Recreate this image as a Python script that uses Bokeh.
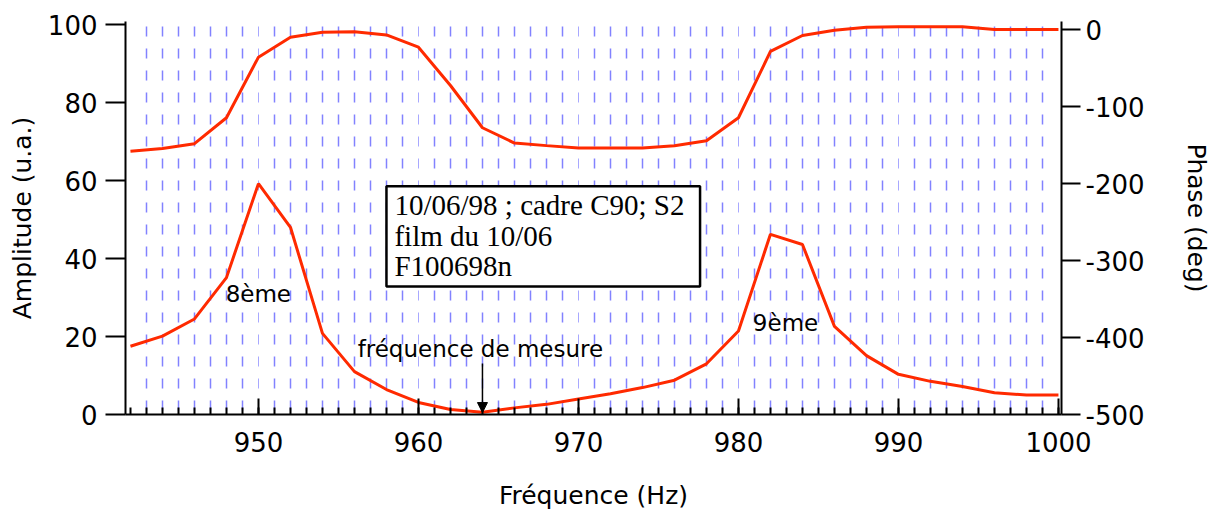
from bokeh.plotting import figure
from bokeh.models import (Range1d, LinearAxis, FixedTicker, Grid, BoxAnnotation,
                          Label, Arrow, NormalHead, CustomJSTickFormatter)
from bokeh.embed import file_html
from bokeh.resources import INLINE

# ---- data -------------------------------------------------------------
freq = list(range(942, 1001, 2))
amplitude = [17.5, 20.1, 24.5, 35.1, 59.2, 48.0, 20.8, 11.0, 6.4, 3.1,
             1.3, 0.6, 1.7, 2.6, 4.0, 5.3, 6.9, 8.8, 13.0, 21.4,
             46.2, 43.6, 22.6, 15.1, 10.3, 8.5, 7.2, 5.6, 5.0, 5.0]
phase = [-158.0, -154.4, -148.3, -114.6, -35.9, -10.0, -3.5, -3.0, -7.0, -23.0,
         -72.7, -127.6, -147.5, -150.8, -154.0, -154.0, -154.0, -151.0, -144.4, -114.6,
         -28.5, -7.8, -1.0, 3.0, 3.5, 3.5, 3.5, 0.0, 0.0, 0.0]

x_major_ticks = [950, 960, 970, 980, 990, 1000]
x_minor_ticks = list(range(942, 1001))
amp_ticks = [0, 20, 40, 60, 80, 100]
phase_ticks = [0, -100, -200, -300, -400, -500]
grid_minor = [f for f in range(943, 1000) if f % 10 != 0]
grid_major = [950, 960, 970, 980, 990]

box_lines = ["10/06/98 ; cadre C90; S2", "film du 10/06", "F100698n"]
peak_labels = ["8ème", "9ème"]
measure_label = "fréquence de mesure"
measure_freq = 964

RED = "#ff2a00"
SANS = "DejaVu Sans"

p = figure(width=1215, height=512, output_backend="svg", toolbar_location=None,
           x_range=Range1d(941.69, 1000.19), y_range=Range1d(0, 100.77),
           min_border_left=125, min_border_right=154, min_border_top=21,
           min_border_bottom=98)
p.outline_line_color = None
p.background_fill_color = "white"
p.extra_y_ranges = {"phase": Range1d(-500, 10.4)}

# grids
p.ygrid.visible = False
p.xgrid.ticker = FixedTicker(ticks=grid_minor)
p.xgrid.grid_line_color = "#8282ff"
p.xgrid.grid_line_width = 1.5
p.xgrid.grid_line_dash = "10 12"
p.xgrid.grid_line_dash_offset = 18
g2 = Grid(dimension=0, ticker=FixedTicker(ticks=grid_major),
          grid_line_color="#a8a8ff", grid_line_width=1,
          grid_line_dash="10 12", grid_line_dash_offset=18)
p.add_layout(g2)

int_fmt = CustomJSTickFormatter(code="return tick.toFixed(0);")

# x axis
xa = p.xaxis[0]
xa.ticker = FixedTicker(ticks=x_major_ticks, minor_ticks=x_minor_ticks)
xa.formatter = int_fmt
xa.major_tick_in = 16
xa.major_tick_out = 0
xa.minor_tick_in = 7
xa.minor_tick_out = 0
xa.axis_line_width = 2
xa.major_tick_line_width = 2
xa.minor_tick_line_width = 2
xa.major_label_text_font = SANS
xa.major_label_text_font_size = "26px"
xa.major_label_text_color = "black"
xa.major_label_standoff = 17
xa.axis_label = "Fréquence (Hz)"
xa.axis_label_text_font = SANS
xa.axis_label_text_font_size = "25px"
xa.axis_label_text_font_style = "normal"
xa.axis_label_text_color = "black"
xa.axis_label_standoff = 26

# left axis
ya = p.yaxis[0]
ya.ticker = FixedTicker(ticks=amp_ticks)
ya.formatter = int_fmt
ya.major_tick_out = 20
ya.major_tick_in = 0
ya.minor_tick_out = 0
ya.minor_tick_in = 0
ya.axis_line_width = 2
ya.major_tick_line_width = 2
ya.major_label_text_font = SANS
ya.major_label_text_font_size = "26px"
ya.major_label_text_color = "black"
ya.major_label_standoff = 8
ya.axis_label = "Amplitude (u.a.)"
ya.axis_label_text_font = SANS
ya.axis_label_text_font_size = "25px"
ya.axis_label_text_font_style = "normal"
ya.axis_label_text_color = "black"
ya.axis_label_standoff = 8

# right axis
ra = LinearAxis(y_range_name="phase", ticker=FixedTicker(ticks=phase_ticks),
                formatter=CustomJSTickFormatter(code="return tick.toFixed(0);"))
ra.major_tick_out = 19
ra.major_tick_in = 0
ra.minor_tick_out = 0
ra.minor_tick_in = 0
ra.axis_line_width = 2
ra.major_tick_line_width = 2
ra.major_label_text_font = SANS
ra.major_label_text_font_size = "26px"
ra.major_label_text_color = "black"
ra.major_label_standoff = 5
ra.axis_label = "Phase (deg)"
ra.axis_label_text_font = SANS
ra.axis_label_text_font_size = "25px"
ra.axis_label_text_font_style = "normal"
ra.axis_label_text_color = "black"
ra.axis_label_standoff = 34
p.add_layout(ra, "right")

# curves
p.line(freq, amplitude, line_color=RED, line_width=3)
p.line(freq, phase, line_color=RED, line_width=3, y_range_name="phase")

# info box
p.add_layout(BoxAnnotation(left=958.0, right=977.6, top=58.5, bottom=32.8,
                           fill_color="white", fill_alpha=1.0,
                           line_color="black", line_width=2.5, line_alpha=1.0))
for txt, yb in zip(box_lines, [53.7, 45.8, 38.1]):
    p.add_layout(Label(x=958.5, y=yb, text=txt, text_font="Liberation Serif",
                       text_font_size="29px", text_color="black",
                       text_baseline="alphabetic", text_align="left"))

# annotations
for txt, xx, yy in zip(peak_labels, [947.95, 980.9], [30.8, 23.5]):
    p.add_layout(Label(x=xx, y=yy, text=txt, text_font=SANS, text_font_size="23px",
                       text_color="black", text_baseline="alphabetic"))
p.add_layout(Label(x=956.2, y=16.8, text=measure_label, text_font=SANS,
                   text_font_size="23px", text_color="black",
                   text_baseline="alphabetic"))
p.add_layout(Arrow(x_start=measure_freq, y_start=13.1, x_end=measure_freq, y_end=0.5,
                   line_color="black", line_width=1.5,
                   end=NormalHead(size=10, fill_color="black", line_color="black")))

open("out.html", "w").write(file_html(p, INLINE))
